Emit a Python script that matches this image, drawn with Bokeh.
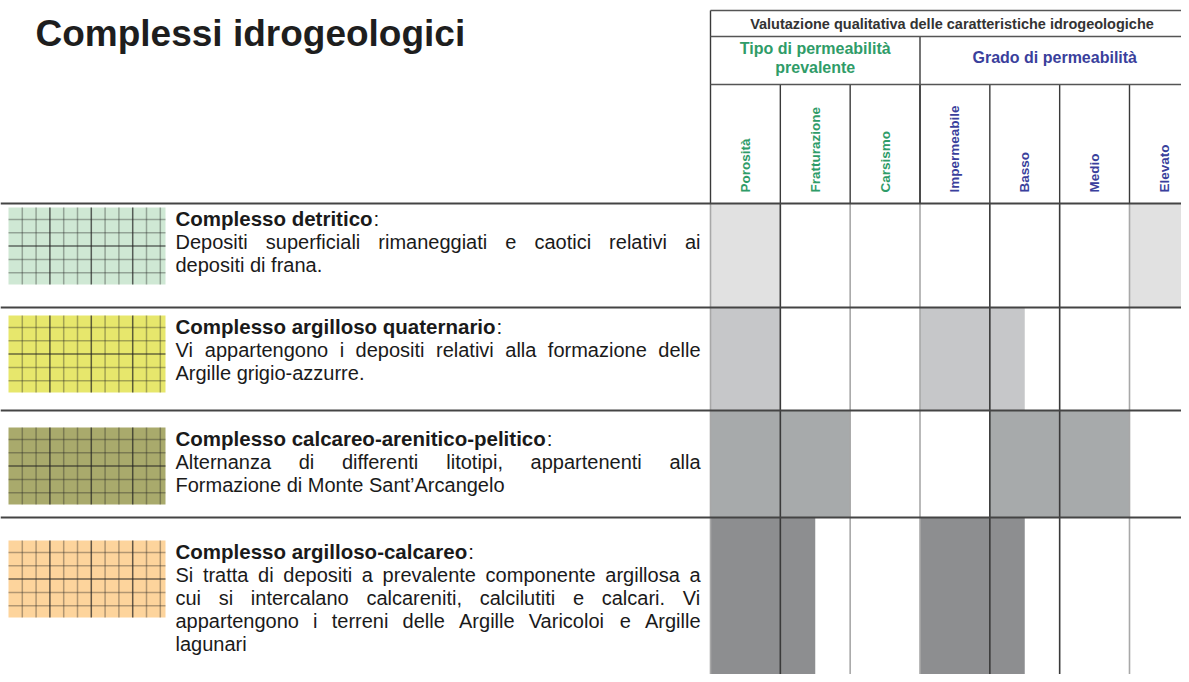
from bokeh.plotting import figure
from bokeh.models import Range1d
from bokeh.core.properties import value
from bokeh.embed import file_html
from bokeh.resources import INLINE

# ---------------- data ----------------
title = "Complessi idrogeologici"
header_main = "Valutazione qualitativa delle caratteristiche idrogeologiche"
group_names = [["Tipo di permeabilità", "prevalente"], ["Grado di permeabilità"]]
columns = ["Porosità", "Fratturazione", "Carsismo", "Impermeabile", "Basso", "Medio", "Elevato"]
column_group = [0, 0, 0, 1, 1, 1, 1]

complessi = [
    "Complesso detritico",
    "Complesso argilloso quaternario",
    "Complesso calcareo-arenitico-pelitico",
    "Complesso argilloso-calcareo",
]
descriptions = [
    ["Depositi superficiali rimaneggiati e caotici relativi ai",
     "depositi di frana."],
    ["Vi appartengono i depositi relativi alla formazione delle",
     "Argille grigio-azzurre."],
    ["Alternanza di differenti litotipi, appartenenti alla",
     "Formazione di Monte Sant\u2019Arcangelo"],
    ["Si tratta di depositi a prevalente componente argillosa a",
     "cui si intercalano calcareniti, calcilutiti e  calcari. Vi",
     "appartengono i terreni delle Argille Varicoloi e Argille",
     "lagunari"],
]
swatch_colors = ["#cfe8d4", "#e7e76c", "#a9aa6c", "#fdd49c"]
cell_colors = ["#e1e1e1", "#c6c7c9", "#a7aaab", "#8d8e90"]

# share of each cell that is shaded (row = complesso, column = characteristic)
fill_detritico = [1, 0, 0, 0, 0, 0, 1]
fill_argilloso_quat = [1, 0, 0, 1, 0.5, 0, 0]
fill_calc_aren_pel = [1, 1, 0, 0, 1, 1, 0]
fill_argilloso_calc = [1, 0.5, 0, 1, 0.5, 0, 0]
fill_share = [fill_detritico, fill_argilloso_quat, fill_calc_aren_pel, fill_argilloso_calc]

# ---------------- layout ----------------
W, H = 1181, 674
X0, X1, Y0, Y1 = 0, W, 0, H
T_LEFT = 710
COL_W = (1129 - 710) / 6
HDR = [10, 36, 84, 203]
ROW_EDGES = [203, 307, 410, 517, 700]
SW_TOP = [207, 315, 427, 540]
SW_X = (8, 165)
SW_H = 77
TXT_X0, TXT_X1 = 175, 700
LINE = 23
FS = 20
FSB = 20.5
FONT = "Liberation Sans"

GREEN = "#2f9c68"
BLUE = "#3a3f9c"

REG = dict(zip("abcdefghijklmnopqrstuvwxyz",
               [556, 556, 500, 556, 556, 278, 556, 556, 222, 222, 500, 222, 833, 556, 556, 556, 556, 333, 500, 278, 556, 500, 722, 500, 500, 500]))
REG.update(dict(zip("ABCDEFGHIJKLMNOPQRSTUVWXYZ",
                    [667, 667, 722, 722, 667, 611, 778, 722, 278, 500, 667, 556, 833, 722, 778, 667, 778, 722, 667, 611, 722, 667, 944, 667, 667, 611])))
REG.update({" ": 278, ",": 278, ".": 278, "-": 333, ":": 278, "\u2019": 222, "'": 191})
BOLD = dict(zip("abcdefghijklmnopqrstuvwxyz",
                [556, 611, 556, 611, 556, 333, 611, 611, 278, 278, 556, 278, 889, 611, 611, 611, 611, 389, 556, 333, 611, 556, 778, 556, 556, 500]))
BOLD.update({"C": 722, " ": 278, "-": 333})


def tw(s, size, table):
    return sum(table.get(c, 556) for c in s) / 1000.0 * size


p = figure(width=W, height=H, x_range=Range1d(X0, X1), y_range=Range1d(Y1, Y0),
           output_backend="svg", toolbar_location=None, min_border=0,
           x_axis_location=None, y_axis_location=None, background_fill_color="white",
           border_fill_color="white", outline_line_color=None)
p.xgrid.visible = False
p.ygrid.visible = False

col_left = [T_LEFT + i * COL_W for i in range(len(columns))]
col_mid = [c + COL_W / 2 for c in col_left]

# ---------------- cell fills ----------------
ql, qr, qt, qb, qc = [], [], [], [], []
for r, shares in enumerate(fill_share):
    for c, s in enumerate(shares):
        if s > 0:
            ql.append(col_left[c])
            qr.append(col_left[c] + s * COL_W)
            qt.append(ROW_EDGES[r])
            qb.append(ROW_EDGES[r + 1])
            qc.append(cell_colors[r])
p.quad(left=ql, right=qr, top=qt, bottom=qb, fill_color=qc, line_color=None)

# ---------------- swatches ----------------
for r, col in enumerate(swatch_colors):
    top = SW_TOP[r]
    p.quad(left=SW_X[0], right=SW_X[1], top=top, bottom=top + SW_H, fill_color=col, line_color=None)
    xs, ys, al = [], [], []
    for j in range(1, 12):
        x = SW_X[0] + 13.8 * j
        xs.append([x, x]); ys.append([top, top + SW_H]); al.append(0.7 if j % 3 == 0 else 0.35)
    for k in range(5):
        y = top + 12 + 13.3 * k
        xs.append([SW_X[0], SW_X[1]]); ys.append([y, y]); al.append(0.65 if k == 2 else 0.35)
    p.multi_line(xs=xs, ys=ys, line_color="#222222", line_alpha=al, line_width=1.5)

# ---------------- table lines ----------------
DARK, GRAY = "#3a3a3a", "#a8a8a8"
for i, x in enumerate(col_left):
    dark = i in (1, 4, 5)
    p.segment(x0=x, y0=HDR[3], x1=x, y1=Y1 + 20, line_color=DARK if dark else GRAY, line_width=1.6)
p.segment(x0=T_LEFT, y0=HDR[0], x1=T_LEFT, y1=HDR[3], line_color=DARK, line_width=1.4)
p.segment(x0=col_left[3], y0=HDR[1], x1=col_left[3], y1=HDR[3], line_color=DARK, line_width=1.4)
for x in col_left[1:]:
    p.segment(x0=x, y0=HDR[2], x1=x, y1=HDR[3], line_color=DARK, line_width=1.4)
for y in HDR[:3]:
    p.segment(x0=T_LEFT, y0=y, x1=X1 + 20, y1=y, line_color="#555555", line_width=1.4)
for y in ROW_EDGES[:-1]:
    p.segment(x0=X0, y0=y, x1=X1 + 20, y1=y, line_color="#444444", line_width=2)

# ---------------- header texts ----------------
p.text(x=[35], y=[33], text=[title], text_font=value(FONT), text_font_style="bold",
       text_font_size="37px", text_color="#1e1e1e", text_baseline="middle", text_align="left")
p.text(x=[(T_LEFT + 1189) / 2 + 2], y=[(HDR[0] + HDR[1]) / 2], text=[header_main], text_font=value(FONT),
       text_font_style="bold", text_font_size="14.5px", text_color="#333333",
       text_baseline="middle", text_align="center")
g0_mid = (T_LEFT + col_left[3]) / 2
g1_mid = (col_left[3] + 1189) / 2
p.text(x=[g0_mid, g0_mid], y=[48, 67], text=group_names[0], text_font=value(FONT),
       text_font_style="bold", text_font_size="16px", text_color=GREEN,
       text_baseline="middle", text_align="center")
p.text(x=[g1_mid], y=[57], text=group_names[1], text_font=value(FONT),
       text_font_style="bold", text_font_size="16px", text_color=BLUE,
       text_baseline="middle", text_align="center")
p.text(x=col_mid, y=[192] * len(columns), text=columns, angle=1.5708, text_font=value(FONT),
       text_font_style="bold", text_font_size="13.5px",
       text_color=[GREEN if g == 0 else BLUE for g in column_group],
       text_baseline="middle", text_align="left")

# ---------------- row texts ----------------
tx, ty, tt = [], [], []
bx, by, bt = [], [], []
cx, cy = [], []
for r, name in enumerate(complessi):
    y = SW_TOP[r] + 11
    bx.append(TXT_X0); by.append(y); bt.append(name)
    cx.append(TXT_X0 + tw(name, FSB, BOLD) + 1); cy.append(y)
    lines = descriptions[r]
    for k, line in enumerate(lines):
        yy = y + (k + 1) * LINE
        words = line.split()
        if k < len(lines) - 1 and len(words) > 1:
            widths = [tw(w, FS, REG) for w in words]
            gap = (TXT_X1 - TXT_X0 - sum(widths)) / (len(words) - 1)
            x = TXT_X0
            for w, wd in zip(words, widths):
                tx.append(x); ty.append(yy); tt.append(w)
                x += wd + gap
        else:
            tx.append(TXT_X0); ty.append(yy); tt.append(line)
p.text(x=bx, y=by, text=bt, text_font=value(FONT), text_font_style="bold",
       text_font_size=f"{FSB}px", text_color="#1a1a1a", text_baseline="middle", text_align="left")
p.text(x=cx, y=cy, text=[":"] * len(cx), text_font=value(FONT),
       text_font_size=f"{FSB}px", text_color="#1a1a1a", text_baseline="middle", text_align="left")
p.text(x=tx, y=ty, text=tt, text_font=value(FONT),
       text_font_size=f"{FS}px", text_color="#1a1a1a", text_baseline="middle", text_align="left")

open("out.html", "w").write(file_html(p, INLINE))
